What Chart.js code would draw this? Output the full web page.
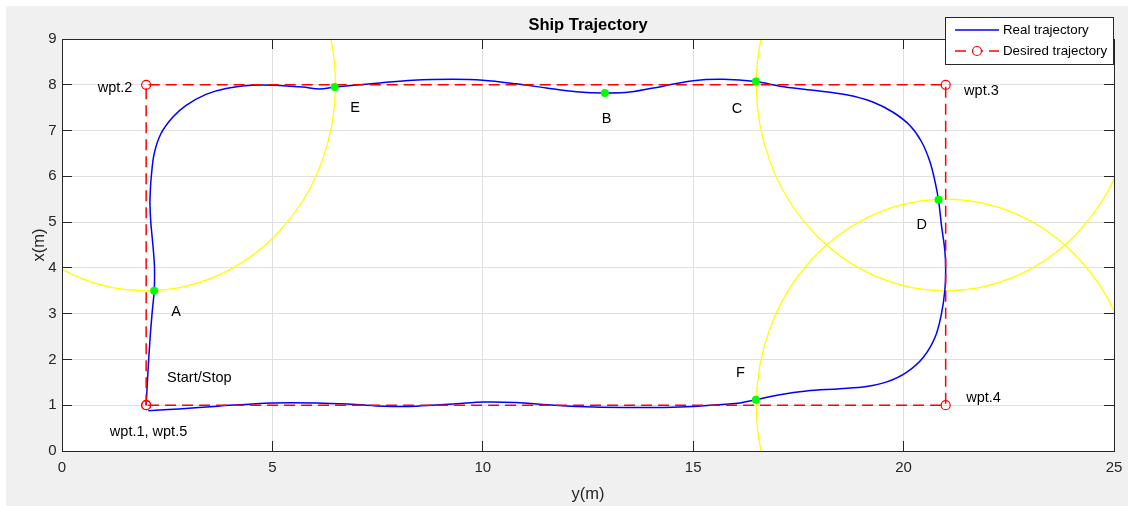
<!DOCTYPE html>
<html>
<head>
<meta charset="utf-8">
<title>Ship Trajectory</title>
<script src="https://cdn.jsdelivr.net/npm/chart.js@4.4.1/dist/chart.umd.min.js"></script>
<style>
  html, body { margin: 0; padding: 0; background: #ffffff; overflow: hidden; }
  canvas { display: block; }
</style>
</head>
<body>
<canvas id="chart" width="1128" height="506"></canvas>
<script>
// Horizontal axis is y (m), vertical axis is x (m).

// Real trajectory of the ship
const realY = [2.00, 2.04, 2.09, 2.14, 2.19, 2.20, 2.19, 2.15, 2.11, 2.09, 2.10, 2.12, 2.19, 2.35, 2.63,
  2.95, 3.42, 3.90, 4.53, 5.01, 5.72, 6.12, 6.48, 7.55, 8.34, 9.29, 10.00, 10.80, 11.51, 12.22,
  12.90, 13.49, 14.28, 15.00, 15.71, 16.49, 17.06, 17.85, 18.64, 19.28, 19.75, 20.15, 20.43, 20.63,
  20.75, 20.83, 20.90, 20.98, 21.00, 20.98, 20.90, 20.75, 20.47, 20.07, 19.60, 19.12, 18.49, 17.69,
  17.06, 16.49, 16.11, 15.75, 15.00, 14.30, 13.59, 12.65, 11.71, 10.77, 10.02, 9.36, 8.42, 7.66,
  6.91, 6.07, 4.99, 3.72, 2.78, 2.05];
const realX = [1.00, 1.69, 2.42, 3.00, 3.49, 3.90, 4.16, 4.60, 5.00, 5.40, 5.70, 5.98, 6.49, 6.93, 7.29,
  7.55, 7.79, 7.92, 7.99, 7.99, 7.95, 7.91, 7.95, 8.04, 8.10, 8.12, 8.10, 8.02, 7.93, 7.85,
  7.82, 7.84, 7.97, 8.09, 8.12, 8.07, 7.97, 7.88, 7.78, 7.62, 7.40, 7.11, 6.75, 6.31,
  5.87, 5.48, 4.93, 4.38, 3.95, 3.51, 3.00, 2.49, 2.05, 1.72, 1.51, 1.41, 1.36, 1.31,
  1.23, 1.12, 1.05, 1.02, 0.97, 0.95, 0.95, 0.96, 1.00, 1.06, 1.07, 1.03, 0.98, 0.98,
  1.02, 1.05, 1.05, 0.98, 0.92, 0.88];

// Desired trajectory through the waypoints
const waypointY = [2, 2, 21, 21, 2];
const waypointX = [1, 8, 8, 1, 1];

// Switching points A, E, B, C, D, F
const switchY = [2.19, 6.48, 12.90, 16.49, 20.83, 16.49];
const switchX = [3.50, 7.95, 7.82, 8.07, 5.49, 1.12];

// Acceptance circles around waypoints
const circleY = [2, 21, 21];
const circleX = [8, 8, 1];
const circleR = [4.5, 4.5, 4.5];

// Text annotations
const noteText = ['A', 'E', 'B', 'C', 'D', 'F', 'Start/Stop', 'wpt.1, wpt.5', 'wpt.2', 'wpt.3', 'wpt.4'];
const noteY = [2.55, 6.80, 12.78, 15.87, 20.26, 15.97, 2.45, 1.09, 0.80, 21.39, 21.44];
const noteX = [3.03, 7.49, 7.25, 7.46, 4.94, 1.71, 1.60, 0.42, 7.94, 7.87, 1.15];

// Axis ticks
const yTickValues = [0, 5, 10, 15, 20, 25];
const xTickValues = [0, 1, 2, 3, 4, 5, 6, 7, 8, 9];

const legendLabels = ['Real trajectory', 'Desired trajectory'];
const titleText = 'Ship Trajectory';

const FONT = '"Liberation Sans", Arial, Helvetica, sans-serif';
const AXIS_COLOR = '#262626';

const toPoints = (hs, vs) => hs.map((h, i) => ({ x: h, y: vs[i] }));
const align = p => Math.round(p - 0.5) + 0.5;

const figurePlugin = {
  id: 'figure',
  beforeDraw(chart) {
    const { ctx, chartArea: a } = chart;
    ctx.save();
    ctx.fillStyle = '#ffffff';
    ctx.fillRect(0, 0, chart.width, chart.height);
    ctx.fillStyle = '#f0f0f0';
    ctx.fillRect(6, 6, chart.width - 6, chart.height - 6);
    ctx.fillStyle = '#ffffff';
    ctx.fillRect(a.left, a.top, a.right - a.left, a.bottom - a.top);
    ctx.restore();
  },
  beforeDatasetsDraw(chart) {
    const { ctx, chartArea: a, scales: { x: sx, y: sy } } = chart;
    ctx.save();
    ctx.beginPath();
    ctx.rect(a.left, a.top, a.right - a.left, a.bottom - a.top);
    ctx.clip();
    ctx.strokeStyle = '#ffff00';
    ctx.lineWidth = 1.3;
    circleY.forEach((h, i) => {
      const cx = sx.getPixelForValue(h);
      const cy = sy.getPixelForValue(circleX[i]);
      const rx = Math.abs(sx.getPixelForValue(h + circleR[i]) - cx);
      const ry = Math.abs(sy.getPixelForValue(circleX[i] + circleR[i]) - cy);
      ctx.beginPath();
      ctx.ellipse(cx, cy, rx, ry, 0, 0, Math.PI * 2);
      ctx.stroke();
    });
    ctx.restore();
  },
  afterDraw(chart) {
    const { ctx, chartArea: a, scales: { x: sx, y: sy } } = chart;
    ctx.save();

    // inward tick marks on all four sides
    ctx.strokeStyle = AXIS_COLOR;
    ctx.lineWidth = 1;
    ctx.beginPath();
    yTickValues.forEach(v => {
      const p = align(sx.getPixelForValue(v));
      ctx.moveTo(p, a.bottom); ctx.lineTo(p, a.bottom - 10);
      ctx.moveTo(p, a.top); ctx.lineTo(p, a.top + 10);
    });
    xTickValues.forEach(v => {
      const p = align(sy.getPixelForValue(v));
      ctx.moveTo(a.left, p); ctx.lineTo(a.left + 10, p);
      ctx.moveTo(a.right, p); ctx.lineTo(a.right - 10, p);
    });
    ctx.stroke();

    // axes box
    const l = align(a.left), r = align(a.right), t = align(a.top), b = align(a.bottom);
    ctx.strokeRect(l, t, r - l, b - t);

    // annotations
    ctx.fillStyle = '#000000';
    ctx.font = '14.5px ' + FONT;
    ctx.textAlign = 'left';
    ctx.textBaseline = 'middle';
    noteText.forEach((s, i) => {
      ctx.fillText(s, sx.getPixelForValue(noteY[i]) + 2, sy.getPixelForValue(noteX[i]));
    });

    // title centred over the axes
    ctx.font = 'bold 16.5px ' + FONT;
    ctx.textAlign = 'center';
    ctx.fillText(titleText, (a.left + a.right) / 2, 25);

    // legend
    const lx = 945.5, ly = 17.5, lw = 168, lh = 47;
    ctx.fillStyle = '#ffffff';
    ctx.fillRect(lx, ly, lw, lh);
    ctx.strokeStyle = AXIS_COLOR;
    ctx.lineWidth = 1;
    ctx.strokeRect(lx, ly, lw, lh);

    const rows = [30, 51];
    ctx.strokeStyle = '#0000ff';
    ctx.lineWidth = 1.5;
    ctx.beginPath();
    ctx.moveTo(955, rows[0]); ctx.lineTo(999, rows[0]);
    ctx.stroke();

    ctx.strokeStyle = '#ff0000';
    ctx.setLineDash([11, 6]);
    ctx.beginPath();
    ctx.moveTo(955, rows[1]); ctx.lineTo(999, rows[1]);
    ctx.stroke();
    ctx.setLineDash([]);
    ctx.lineWidth = 1.2;
    ctx.fillStyle = '#ffffff';
    ctx.beginPath();
    ctx.arc(977, rows[1], 4.5, 0, Math.PI * 2);
    ctx.fill();
    ctx.stroke();

    ctx.fillStyle = '#000000';
    ctx.font = '13.3px ' + FONT;
    ctx.textAlign = 'left';
    legendLabels.forEach((s, i) => ctx.fillText(s, 1003, rows[i]));

    ctx.restore();
  }
};

new Chart(document.getElementById('chart'), {
  type: 'scatter',
  data: {
    datasets: [
      {
        label: 'Switching points',
        data: toPoints(switchY, switchX),
        showLine: false,
        pointRadius: 4,
        pointBackgroundColor: '#00ff00',
        pointBorderColor: '#00ff00',
        pointBorderWidth: 0
      },
      {
        label: legendLabels[1],
        data: toPoints(waypointY, waypointX),
        showLine: true,
        borderColor: '#ff0000',
        borderWidth: 1.5,
        borderDash: [11, 6],
        tension: 0,
        pointRadius: 4.5,
        pointBorderWidth: 1.2,
        pointBorderColor: '#ff0000',
        pointBackgroundColor: 'rgba(0,0,0,0)'
      },
      {
        label: legendLabels[0],
        data: toPoints(realY, realX),
        showLine: true,
        borderColor: '#0000ff',
        borderWidth: 1.5,
        tension: 0.35,
        pointRadius: 0
      }
    ]
  },
  options: {
    responsive: false,
    animation: false,
    devicePixelRatio: 1,
    events: [],
    layout: { padding: { top: 39, right: 14, bottom: 0, left: 0 } },
    plugins: {
      legend: { display: false },
      title: { display: false },
      tooltip: { enabled: false }
    },
    scales: {
      x: {
        type: 'linear',
        min: 0,
        max: 25,
        afterBuildTicks: s => { s.ticks = yTickValues.map(v => ({ value: v })); },
        afterFit: s => { s.height = 55; s.paddingLeft = 0; s.paddingRight = 0; },
        grid: { color: '#dfdfdf', lineWidth: 1, drawTicks: false },
        border: { display: false },
        ticks: { color: AXIS_COLOR, padding: 7.5, font: { family: FONT, size: 15 }, maxRotation: 0 },
        title: { display: true, text: 'y(m)', color: AXIS_COLOR, font: { family: FONT, size: 16.5 }, padding: { top: 0, bottom: 2 } }
      },
      y: {
        type: 'linear',
        min: 0,
        max: 9,
        afterBuildTicks: s => { s.ticks = xTickValues.map(v => ({ value: v })); },
        afterFit: s => { s.width = 62; s.paddingTop = 0; s.paddingBottom = 0; },
        grid: { color: '#dfdfdf', lineWidth: 1, drawTicks: false },
        border: { display: false },
        ticks: { color: AXIS_COLOR, padding: 5.5, font: { family: FONT, size: 15 } },
        title: { display: true, text: 'x(m)', color: AXIS_COLOR, font: { family: FONT, size: 16.5 }, padding: { top: 29.5, bottom: 0 } }
      }
    }
  },
  plugins: [figurePlugin]
});
</script>
</body>
</html>
